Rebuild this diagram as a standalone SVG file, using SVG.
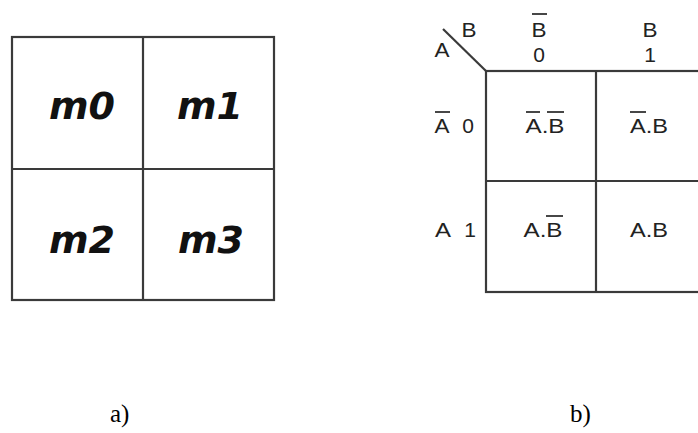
<svg xmlns="http://www.w3.org/2000/svg" width="698" height="433" viewBox="0 0 698 433">
  <style>
    .grid { fill: none; stroke: #3a3a3a; stroke-width: 2.2; }
    .mt { font-family: "DejaVu Sans", Verdana, sans-serif; font-weight: bold; font-style: italic; font-size: 38px; fill: #111; text-anchor: middle; }
    .lb { font-family: "Liberation Sans", Arial, sans-serif; font-size: 21px; fill: #222; text-anchor: middle; }
    .bar { stroke: #333; stroke-width: 1.8; }
    .cap { font-family: "Liberation Serif", "Times New Roman", serif; font-size: 25px; fill: #000; }
  </style>

  <!-- a) minterm map -->
  <g id="map-a">
    <rect class="grid" x="12" y="37" width="262" height="263"/>
    <line class="grid" x1="143" y1="37" x2="143" y2="300"/>
    <line class="grid" x1="12" y1="169" x2="274" y2="169"/>
    <text class="mt" x="82" y="119">m0</text>
    <text class="mt" x="210" y="119">m1</text>
    <text class="mt" x="82" y="253">m2</text>
    <text class="mt" x="211" y="253">m3</text>
  </g>

  <!-- b) Karnaugh map with variable headings -->
  <g id="map-b">
    <rect class="grid" x="486" y="71" width="222" height="221"/>
    <line class="grid" x1="596" y1="71" x2="596" y2="292"/>
    <line class="grid" x1="486" y1="181" x2="708" y2="181"/>
    <line class="grid" x1="443" y1="29" x2="486" y2="71"/>
  </g>

  <g id="headings">
    <text class="lb" x="469" y="37" textLength="15" lengthAdjust="spacingAndGlyphs">B</text>
    <text class="lb" x="442" y="57" textLength="15" lengthAdjust="spacingAndGlyphs">A</text>
    <text class="lb" x="539" y="37" textLength="15" lengthAdjust="spacingAndGlyphs">B</text>
    <line class="bar" x1="532" y1="14" x2="547" y2="14"/>
    <text class="lb" x="539" y="62">0</text>
    <text class="lb" x="650" y="37" textLength="15" lengthAdjust="spacingAndGlyphs">B</text>
    <text class="lb" x="650" y="62">1</text>

    <text class="lb" x="442" y="133" textLength="15" lengthAdjust="spacingAndGlyphs">A</text>
    <line class="bar" x1="435" y1="112" x2="450" y2="112"/>
    <text class="lb" x="468" y="133">0</text>
    <text class="lb" x="443" y="237" textLength="16" lengthAdjust="spacingAndGlyphs">A</text>
    <text class="lb" x="470" y="237">1</text>
  </g>

  <g id="cells">
    <text class="lb" x="545" y="133" textLength="39" lengthAdjust="spacingAndGlyphs">A.B</text>
    <line class="bar" x1="526" y1="112" x2="540" y2="112"/>
    <line class="bar" x1="547" y1="112" x2="564" y2="112"/>
    <text class="lb" x="649" y="133" textLength="38" lengthAdjust="spacingAndGlyphs">A.B</text>
    <line class="bar" x1="630" y1="112" x2="646" y2="112"/>
    <text class="lb" x="543" y="237" textLength="39" lengthAdjust="spacingAndGlyphs">A.B</text>
    <line class="bar" x1="546" y1="216" x2="563" y2="216"/>
    <text class="lb" x="649" y="237" textLength="38" lengthAdjust="spacingAndGlyphs">A.B</text>
  </g>

  <g id="captions">
    <text class="cap" x="110" y="422">a)</text>
    <text class="cap" x="570" y="422">b)</text>
  </g>
</svg>
